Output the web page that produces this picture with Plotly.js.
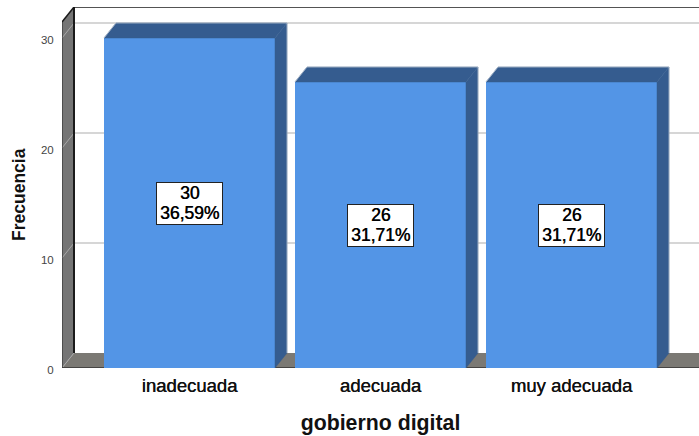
<!DOCTYPE html>
<html>
<head>
<meta charset="utf-8">
<script src="https://cdn.plot.ly/plotly-3.0.1.min.js"></script>
<style>html,body{margin:0;padding:0;background:#fff}#c{width:699px;height:436px}</style>
</head>
<body>
<div id="c"></div>
<script>
const categories = ["inadecuada", "adecuada", "muy adecuada"];
const counts = [30, 26, 26];
const percents = ["36,59%", "31,71%", "31,71%"];
const yTicks = [0, 10, 20, 30];
const xTitle = "gobierno digital";
const yTitle = "Frecuencia";

const L = 62, R = 699, T = 7, B = 368, W = 699, H = 436;
const pxPerY = 11, pxPerX = 191;
const depthX = 12 / pxPerX, depthY = 15 / pxPerY;
const barW = 171 / pxPerX;
const xMin = -(189.5 - L) / pxPerX, xMax = (R - 189.5) / pxPerX;
const yMax = (B - T) / pxPerY;
const idx = categories.map((_, i) => i);

const FRONT = "#5395e6", DARK = "#355c8f", WALL = "#757575", FLOOR = "#7b7974", GRID = "#c8c8c8", EDGE = "#1a1a1a";
const THICK = "0.35px 0 0 #111";

function poly(xs, ys, color) {
  return {type: "scatter", mode: "lines", x: xs.concat(xs[0]), y: ys.concat(ys[0]), fill: "toself",
          fillcolor: color, line: {color: color, width: 0.5}, hoverinfo: "skip", showlegend: false};
}
const shapes = [];
function seg(x0, y0, x1, y1, color, width) {
  shapes.push({type: "line", layer: "below", x0, y0, x1, y1, line: {color, width}});
}
function area(path, color) {
  shapes.push({type: "path", layer: "below", path, fillcolor: color, line: {width: 0}});
}
const wallTop = yMax - depthY;
area(`M ${xMin} 0 L ${xMin + depthX} ${depthY} L ${xMin + depthX} ${yMax} L ${xMin} ${wallTop} Z`, WALL);
area(`M ${xMin} 0 L ${xMin + depthX} ${depthY} L ${xMax} ${depthY} L ${xMax} 0 Z`, FLOOR);
yTicks.forEach(v => {
  if (v > 0) seg(xMin + depthX, v + depthY, xMax, v + depthY, GRID, 1.4);
  seg(xMin, v, xMin + depthX, v + depthY, "#a8a8a8", 1);
});
seg(xMin + depthX, yMax, xMax, yMax, EDGE, 1.5);
seg(xMin + depthX, depthY, xMin + depthX, yMax, EDGE, 2);
seg(xMin, wallTop, xMin + depthX, yMax, EDGE, 1.5);
seg(xMin, 0, xMin, wallTop, "#333333", 1.2);
seg(xMin, 0, xMax, 0, "#333333", 1.5);

const traces = [];
counts.forEach((v, i) => {
  const a = i - barW / 2, b = i + barW / 2;
  traces.push(poly([a, a + depthX, b + depthX, b], [v, v + depthY, v + depthY, v], DARK));
  traces.push(poly([b, b + depthX, b + depthX, b], [0, depthY, v + depthY, v], DARK));
  traces.push({type: "scatter", mode: "lines", x: [a, a + depthX, b + depthX, b + depthX],
               y: [v, v + depthY, v + depthY, depthY], line: {color: "#b9c3d0", width: 0.8},
               hoverinfo: "skip", showlegend: false});
});
traces.push({type: "bar", x: idx, y: counts, width: barW, marker: {color: FRONT, line: {width: 0}},
             hoverinfo: "skip", showlegend: false});

const labelFont = {family: "Liberation Sans", size: 17.5, color: "#000", shadow: "0.45px 0 0 #111"};
const annotations = [];
counts.forEach((v, i) => {
  annotations.push({x: i, y: v / 2, xref: "x", yref: "y", showarrow: false, text: " ", width: 65, height: 41,
    bgcolor: "#fff", bordercolor: "#222", borderwidth: 1, borderpad: 0, font: {size: 10}});
  annotations.push({x: i, y: v / 2, xref: "x", yref: "y", showarrow: false, text: String(v), yshift: 10, font: labelFont});
  annotations.push({x: i, y: v / 2, xref: "x", yref: "y", showarrow: false, text: percents[i], yshift: -10, font: labelFont});
});
annotations.push({xref: "paper", yref: "paper", x: (18.5 - L) / (R - L), y: (B - 194.5) / (B - T),
  xanchor: "center", yanchor: "middle", showarrow: false, textangle: -90, text: yTitle,
  font: {family: "Liberation Sans", size: 17.5, color: "#111", weight: 700}});

Plotly.newPlot("c", traces, {
  width: W, height: H,
  margin: {l: L, r: W - R, t: T, b: H - B, pad: 0},
  paper_bgcolor: "#fff", plot_bgcolor: "#fff",
  barmode: "overlay", showlegend: false,
  font: {family: "Liberation Sans", color: "#222"},
  xaxis: {type: "linear", range: [xMin, xMax], tickmode: "array", tickvals: idx, ticktext: categories,
          showgrid: false, zeroline: false, showline: false, ticks: "outside", ticklen: 1, tickcolor: "rgba(0,0,0,0)",
          tickfont: {family: "Liberation Sans", size: 18.5, color: "#111", shadow: THICK},
          title: {text: "<b>" + xTitle + "</b>", standoff: 19, font: {family: "Liberation Sans", size: 21.3, color: "#111"}}},
  yaxis: {range: [0, yMax], tickmode: "array", tickvals: yTicks, ticktext: yTicks.map(String),
          showgrid: false, zeroline: false, showline: false, ticks: "outside", ticklen: 5, tickcolor: "rgba(0,0,0,0)",
          ticklabelshift: 2,
          tickfont: {family: "Liberation Sans", size: 11.5, color: "#444"}},
  shapes, annotations
}, {displayModeBar: false, staticPlot: true});
</script>
</body>
</html>
